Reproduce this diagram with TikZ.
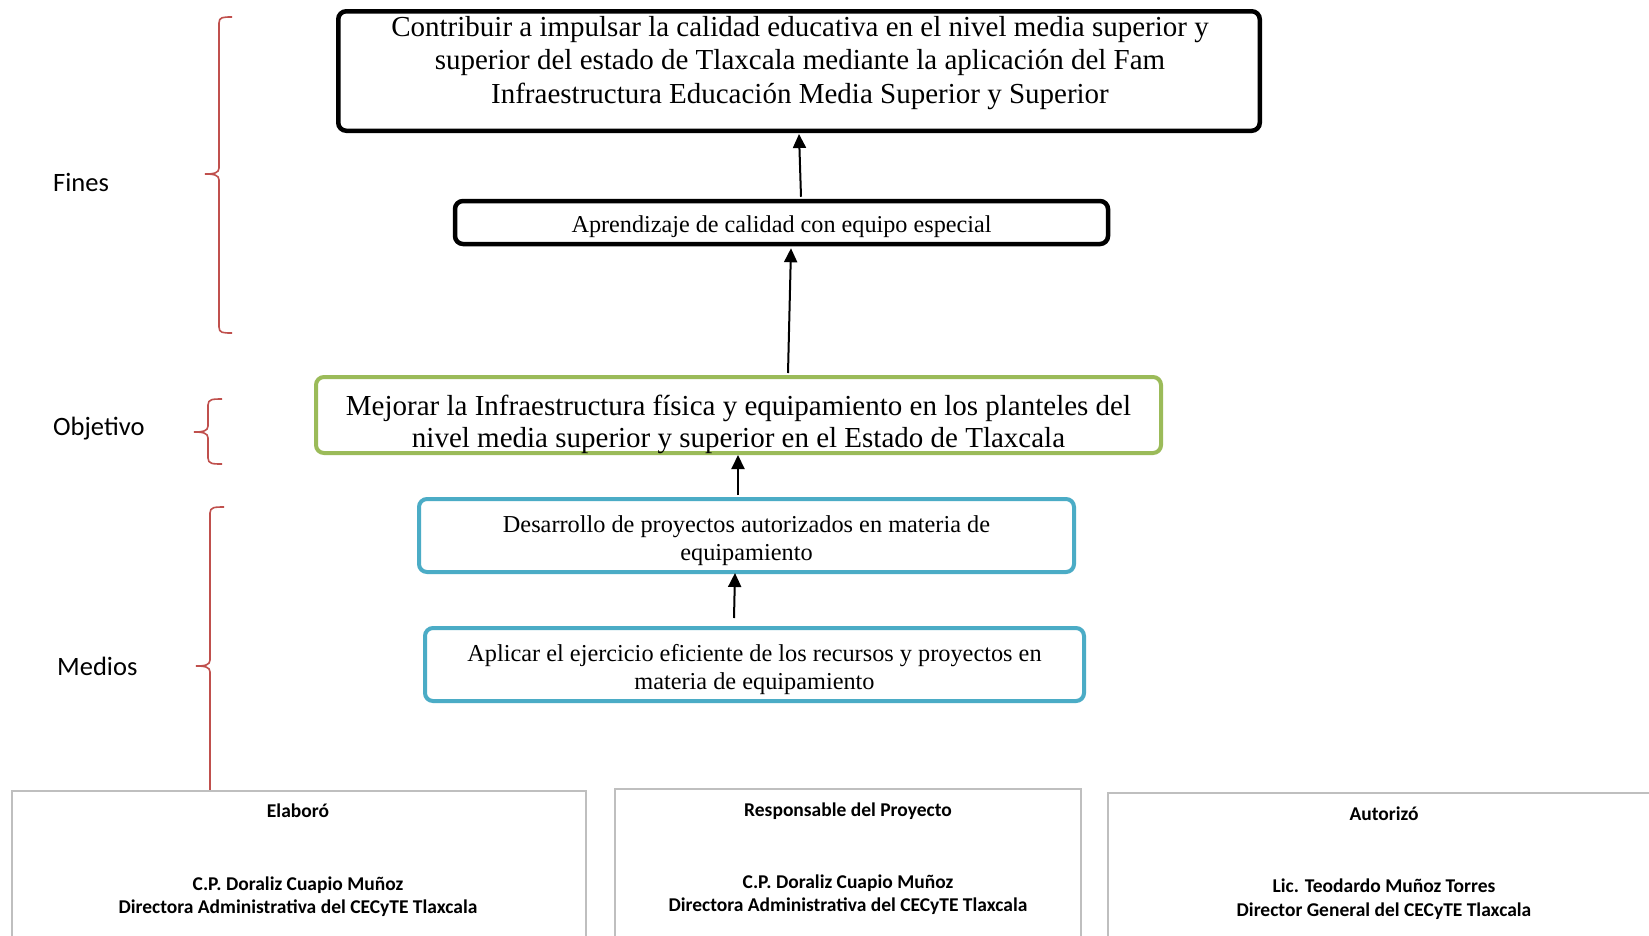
\documentclass[tikz,border=0pt]{standalone}
\usepackage{fontspec}
\setmainfont{Liberation Serif}
\newfontfamily\calib{Carlito}
\usetikzlibrary{arrows.meta,calc}
\definecolor{vgreen}{HTML}{9BBB59}
\definecolor{vblue}{HTML}{4BACC6}
\definecolor{bred}{HTML}{C0504D}
\definecolor{sgray}{HTML}{BFBFBF}
\tikzset{
  brace/.style={draw=bred, line width=1.6pt},
  blackbox/.style={draw=black, line width=4.5pt, rounded corners=8pt, fill=white, inner sep=0pt},
  greenbox/.style={draw=vgreen, line width=4pt, rounded corners=8pt, fill=white, inner sep=0pt},
  bluebox/.style={draw=vblue, line width=4pt, rounded corners=8pt, fill=white, inner sep=0pt},
  boxtext/.style={align=center, inner sep=0pt},
  sigbox/.style={draw=sgray, line width=2pt, fill=white, inner sep=0pt},
  sigt/.style={font=\calib\bfseries\fontsize{19.5}{23.5}\selectfont, align=center, inner sep=0pt},
  side/.style={font=\calib\fontsize{26.5}{30}\selectfont, anchor=base west, inner sep=0pt},
  arr/.style={line width=2pt, -{Triangle[length=14pt,width=13pt]}}
}
\begin{document}
\begin{tikzpicture}[x=1pt,y=-1pt]
\fill[white] (0,0) rectangle (1649,935);
\begin{scope}
\clip (0,0) rectangle (1649,935);
% side labels
\node[side] (fines) at (53,191) {Fines};
\node[side] (objetivo) at (53,435) {Objetivo};
\node[side] (medios) at (57,675) {Medios};
% braces
\draw[brace] (232,17) .. controls (223,17) and (219,17) .. (219,23) -- (219,168)
  .. controls (219,173) and (214,174) .. (205,174)
  .. controls (214,174) and (219,175) .. (219,180) -- (219,327)
  .. controls (219,333) and (223,333) .. (232,333);
\draw[brace] (222,399) .. controls (213,399) and (208,399) .. (208,405) -- (208,426)
  .. controls (208,431) and (203,432) .. (194,432)
  .. controls (203,432) and (208,433) .. (208,438) -- (208,458)
  .. controls (208,464) and (213,464) .. (222,464);
\draw[brace] (224,507) .. controls (215,507) and (210,507) .. (210,513) -- (210,660)
  .. controls (210,665) and (205,666) .. (196,666)
  .. controls (205,666) and (210,667) .. (210,672) -- (210,800);
% main boxes
\node[blackbox, minimum width=921.5pt, minimum height=119.5pt] (fin) at (799,71) {};
\node[boxtext, font=\fontsize{29}{33.7}\selectfont] (fintext) at (800,63)
  {Contribuir a impulsar la calidad educativa en el nivel media superior y\\
   superior del estado de Tlaxcala mediante la aplicación del Fam\\
   Infraestructura Educación Media Superior y Superior};
\node[blackbox, minimum width=653pt, minimum height=43pt] (apr) at (781.5,222.5) {};
\node[boxtext, font=\fontsize{24.2}{28}\selectfont] (aprtext) at (781.5,226.7)
  {Aprendizaje de calidad con equipo especial};
\node[greenbox, minimum width=845pt, minimum height=76pt] (obj) at (738.5,415) {};
\node[boxtext, font=\fontsize{29}{32.6}\selectfont] (objtext) at (738.5,424.5)
  {Mejorar la Infraestructura física y equipamiento en los planteles del\\
   nivel media superior y superior en el Estado de Tlaxcala};
\node[bluebox, minimum width=655pt, minimum height=73pt] (m1) at (746.5,535.5) {};
\node[boxtext, font=\fontsize{24.3}{28.2}\selectfont] (m1text) at (746.5,540.3)
  {Desarrollo de proyectos autorizados en materia de\\ equipamiento};
\node[bluebox, minimum width=659pt, minimum height=73pt] (m2) at (754.5,664.5) {};
\node[boxtext, font=\fontsize{24.3}{28.2}\selectfont] (m2text) at (754.5,669.7)
  {Aplicar el ejercicio eficiente de los recursos y proyectos en\\ materia de equipamiento};
% arrows
\draw[arr] ([xshift=19.5pt,yshift=2pt]apr.north) -- ([xshift=0pt,yshift=-1pt]fin.south);
\draw[arr] ([xshift=49.5pt,yshift=2pt]obj.north) -- ([xshift=9.5pt,yshift=-2pt]apr.south);
\draw[arr] ([xshift=-8.5pt,yshift=2pt]m1.north) -- ([xshift=-0.5pt,yshift=0pt]obj.south);
\coordinate (a4) at (734,618);
\draw[arr] (a4) -- ([xshift=-11.5pt,yshift=1pt]m1.south);
% signature boxes
\node[sigbox, minimum width=574.5pt, minimum height=220pt, anchor=north west] (s1) at (10.5,790) {};
\node[sigbox, minimum width=466pt, minimum height=220pt, anchor=north west] (s2) at (614,788) {};
\node[sigbox, minimum width=600pt, minimum height=220pt, anchor=north west] (s3) at (1107,792) {};
\node[sigt] (s1a) at (298,811) {Elaboró};
\node[sigt] (s1b) at (298,896.7) {C.P. Doraliz Cuapio Muñoz\\Directora Administrativa del CECyTE Tlaxcala};
\node[sigt] (s2a) at (848,811) {Responsable del Proyecto};
\node[sigt] (s2b) at (848,894.7) {C.P. Doraliz Cuapio Muñoz\\Directora Administrativa del CECyTE Tlaxcala};
\node[sigt] (s3a) at (1384,814) {Autorizó};
\node[sigt] (s3b) at (1384,899.1) {Lic. Teodardo Muñoz Torres\\Director General del CECyTE Tlaxcala};
\end{scope}
\pgfresetboundingbox
\useasboundingbox (0,0) rectangle (1649,935);
\end{tikzpicture}
\end{document}
